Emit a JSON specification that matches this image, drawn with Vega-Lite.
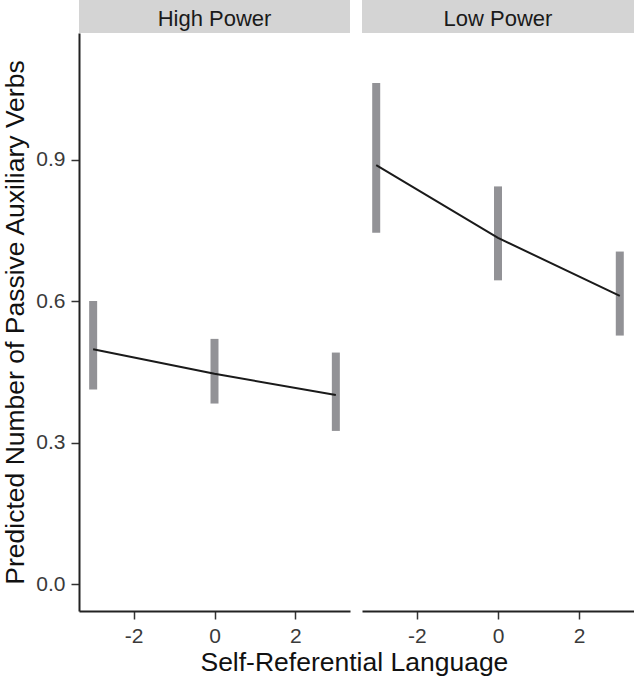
{
  "$schema": "https://vega.github.io/schema/vega-lite/v6.json",
  "padding": {"left": 2, "top": 0, "right": 0, "bottom": 2},
  "bounds": "flush",
  "columns": 2,
  "spacing": {"row": 0, "column": 12},
  "datasets": {
    "fits": [
      {"power": "High Power", "x": -3, "fit": 0.498, "lower": 0.413, "upper": 0.600},
      {"power": "High Power", "x": 0, "fit": 0.446, "lower": 0.383, "upper": 0.520},
      {"power": "High Power", "x": 3, "fit": 0.401, "lower": 0.325, "upper": 0.491},
      {"power": "Low Power", "x": -3, "fit": 0.888, "lower": 0.745, "upper": 1.062},
      {"power": "Low Power", "x": 0, "fit": 0.734, "lower": 0.644, "upper": 0.843},
      {"power": "Low Power", "x": 3, "fit": 0.611, "lower": 0.527, "upper": 0.705}
    ],
    "panels": [{"power": "High Power"}, {"power": "Low Power"}]
  },
  "title": {
    "text": "Self-Referential Language",
    "orient": "bottom",
    "anchor": "middle",
    "fontSize": 26.5,
    "fontWeight": "normal",
    "font": "Liberation Sans",
    "color": "#111111",
    "offset": 4,
    "dx": 36
  },
  "concat": [
    {
      "data": {"name": "panels"},
      "transform": [{"filter": "datum.power == 'High Power'"}],
      "width": 271,
      "height": 33,
      "view": {"fill": "#d4d4d4", "stroke": null},
      "mark": {"type": "text", "fontSize": 22, "color": "#1a1a1a", "font": "Liberation Sans", "baseline": "middle", "align": "center", "dy": 2},
      "encoding": {"text": {"field": "power", "type": "nominal"}}
    },
    {
      "data": {"name": "panels"},
      "transform": [{"filter": "datum.power == 'Low Power'"}],
      "width": 272,
      "height": 33,
      "view": {"fill": "#d4d4d4", "stroke": null},
      "mark": {"type": "text", "fontSize": 22, "color": "#1a1a1a", "font": "Liberation Sans", "baseline": "middle", "align": "center", "dy": 2},
      "encoding": {"text": {"field": "power", "type": "nominal"}}
    },
    {
      "data": {"name": "fits"},
      "transform": [{"filter": "datum.power == 'High Power'"}],
      "width": 271,
      "height": 578,
      "encoding": {
        "x": {"field": "x", "type": "quantitative", "scale": {"domain": [-3.35, 3.35], "nice": false, "zero": false},
              "axis": {"values": [-2, 0, 2], "title": null, "labelExpr": "'' + datum.value"}}
      },
      "layer": [
        {
          "mark": {"type": "rule", "strokeWidth": 8, "color": "#929296"},
          "encoding": {
            "y": {"field": "lower", "type": "quantitative", "scale": {"domain": [-0.0565, 1.168], "nice": false, "zero": false},
                  "axis": {"values": [0, 0.3, 0.6, 0.9], "format": ".1f", "title": "Predicted Number of Passive Auxiliary Verbs", "titlePadding": 6}},
            "y2": {"field": "upper"}
          }
        },
        {
          "mark": {"type": "line", "strokeWidth": 2, "color": "#1a1a1a"},
          "encoding": {"y": {"field": "fit", "type": "quantitative"}}
        }
      ]
    },
    {
      "data": {"name": "fits"},
      "transform": [{"filter": "datum.power == 'Low Power'"}],
      "width": 272,
      "height": 578,
      "encoding": {
        "x": {"field": "x", "type": "quantitative", "scale": {"domain": [-3.35, 3.35], "nice": false, "zero": false},
              "axis": {"values": [-2, 0, 2], "title": null, "labelExpr": "'' + datum.value"}}
      },
      "layer": [
        {
          "mark": {"type": "rule", "strokeWidth": 8, "color": "#929296"},
          "encoding": {
            "y": {"field": "lower", "type": "quantitative", "scale": {"domain": [-0.0565, 1.168], "nice": false, "zero": false}, "axis": null},
            "y2": {"field": "upper"}
          }
        },
        {
          "mark": {"type": "line", "strokeWidth": 2, "color": "#1a1a1a"},
          "encoding": {"y": {"field": "fit", "type": "quantitative"}}
        }
      ]
    }
  ],
  "config": {
    "view": {"stroke": null},
    "font": "Liberation Sans",
    "axis": {
      "domainColor": "#222222",
      "domainWidth": 2,
      "tickColor": "#333333",
      "tickWidth": 1.5,
      "tickSize": 8,
      "labelFontSize": 21,
      "labelColor": "#3a3a3a",
      "labelFont": "Liberation Sans",
      "labelPadding": 6,
      "titleFont": "Liberation Sans",
      "titleFontSize": 26.5,
      "titleFontWeight": "normal",
      "titleColor": "#111111",
      "grid": false
    }
  }
}
